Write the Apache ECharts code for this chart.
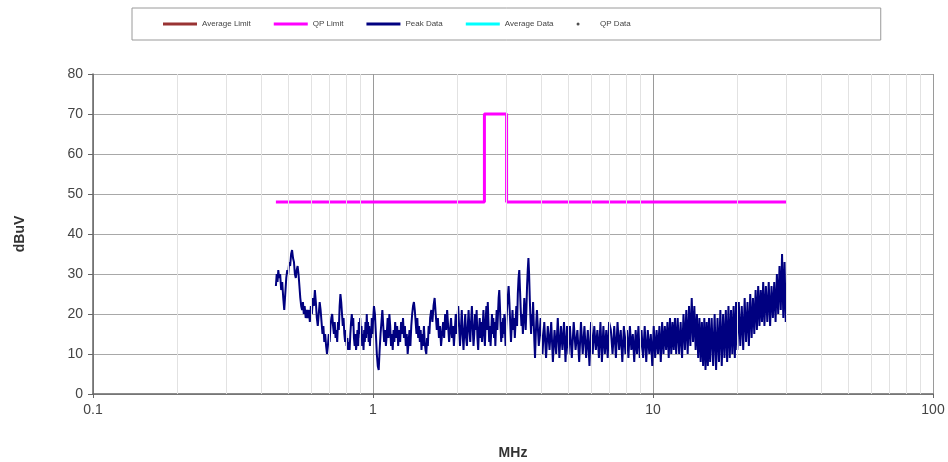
<!DOCTYPE html>
<html>
<head>
<meta charset="utf-8">
<script src="https://cdn.jsdelivr.net/npm/echarts@6/dist/echarts.min.js"></script>
<style>
  html, body { margin: 0; padding: 0; background: #fff; }
  #main { width: 948px; height: 462px; }
</style>
</head>
<body>
<div id="main"></div>
<script>
// legend names
var seriesNames = ['Average Limit', 'QP Limit', 'Peak Data', 'Average Data', 'QP Data'];

// y axis ticks (dBuV)
var yTicks = [0, 10, 20, 30, 40, 50, 60, 70, 80];

// minor frequency grid (MHz)
var minorFreqs = [0.2, 0.3, 0.4, 0.5, 0.6, 0.7, 0.8, 0.9,
                  2, 3, 4, 5, 6, 7, 8, 9,
                  20, 30, 40, 50, 60, 70, 80, 90];

// QP limit line [MHz, dBuV]
var qpLimit = [[0.45, 48], [2.5, 48], [2.5, 70], [3.0, 70], [3.0, 48], [30, 48]];

// peak scan [MHz, dBuV]
var peakData = [
  [0.450,27],[0.453,30],[0.456,28],[0.459,31],[0.462,29],[0.466,30],[0.470,26],[0.474,28],[0.478,24],[0.482,21],
  [0.486,25],[0.490,29],[0.494,31],[0.498,30],[0.502,33],[0.506,32],[0.510,35],[0.514,36],[0.518,34],[0.522,33],
  [0.526,30],[0.530,29],[0.534,31],[0.538,32],[0.542,30],[0.546,27],[0.550,24],[0.554,22],[0.558,21],[0.562,23],
  [0.566,20],[0.570,22],[0.575,19],[0.580,21],[0.585,19],[0.590,21],
  [0.595,18],[0.600,22],[0.605,20],[0.610,24],[0.615,22],[0.620,26],[0.625,23],[0.630,19],[0.635,17],[0.640,20],
  [0.645,23],[0.650,21],[0.655,18],[0.660,15],[0.665,17],[0.670,13],[0.675,15],[0.680,12],[0.685,10],[0.690,12],
  [0.695,15],[0.700,13],[0.705,17],[0.710,19],[0.715,20],[0.720,17],[0.725,15],[0.730,18],[0.735,14],[0.740,16],
  [0.745,13],[0.750,18],[0.755,16],[0.760,22],[0.765,25],[0.770,23],[0.775,20],[0.780,17],[0.785,19],[0.790,15],
  [0.795,13],[0.800,16],[0.805,12],[0.810,14],[0.815,11],[0.820,13],[0.825,11],[0.830,15],[0.835,18],[0.840,20],
  [0.845,17],[0.850,19],[0.855,14],[0.860,12],[0.865,15],[0.870,11],[0.875,13],[0.880,16],[0.885,12],[0.890,18],
  [0.895,15],[0.900,19],[0.905,14],[0.910,17],[0.915,12],[0.920,15],[0.925,11],[0.930,16],[0.935,13],[0.940,18],
  [0.945,14],[0.950,20],[0.955,15],[0.960,18],[0.965,13],[0.970,17],[0.975,12],[0.980,16],[0.985,14],[0.990,19],
  [0.995,15],
  [1.000,18],[1.008,22],[1.016,20],[1.024,15],[1.032,10],[1.040,7],[1.048,6],[1.056,11],[1.064,15],[1.072,18],
  [1.080,21],[1.088,17],[1.096,13],[1.104,16],[1.112,12],[1.120,15],[1.128,19],[1.136,14],[1.144,20],[1.152,17],
  [1.160,12],[1.168,15],[1.176,11],[1.184,16],[1.192,13],[1.200,18],[1.210,14],[1.220,17],[1.230,12],[1.240,16],
  [1.250,13],[1.260,18],[1.270,15],[1.280,19],[1.290,14],[1.300,17],[1.310,12],[1.320,15],[1.330,10],[1.340,13],
  [1.350,16],[1.360,12],[1.370,17],[1.380,20],[1.390,22],[1.400,23],[1.410,21],[1.420,18],[1.430,15],[1.440,19],
  [1.450,14],[1.460,17],[1.470,13],[1.480,16],[1.490,11],[1.500,15],[1.510,12],[1.520,17],[1.530,13],[1.540,11],
  [1.550,10],[1.560,14],[1.570,12],[1.580,17],[1.590,15],[1.600,19],[1.615,21],[1.630,18],[1.645,22],[1.660,24],
  [1.675,20],[1.690,16],[1.705,19],[1.720,14],[1.735,17],[1.750,12],[1.765,15],[1.780,18],[1.795,14],[1.810,20],
  [1.825,16],[1.840,21],[1.855,17],[1.870,13],[1.885,16],[1.900,19],[1.915,14],[1.930,17],[1.945,12],[1.960,16],
  [1.975,20],[1.990,15],
  [2.000,18],[2.015,22],[2.030,17],[2.045,12],[2.060,16],[2.075,21],[2.090,15],[2.105,11],[2.120,16],[2.135,20],
  [2.150,14],[2.165,12],[2.180,17],[2.195,21],[2.210,16],[2.225,13],[2.240,18],[2.255,22],[2.270,17],[2.285,12],
  [2.300,15],[2.315,20],[2.330,16],[2.345,21],[2.360,14],[2.375,11],[2.390,16],[2.405,19],[2.420,14],[2.435,18],
  [2.450,13],[2.465,17],[2.480,21],[2.495,15],[2.510,12],[2.525,18],[2.540,22],[2.555,16],[2.570,23],[2.585,18],
  [2.600,13],[2.615,17],[2.630,12],[2.645,16],[2.660,20],[2.675,15],[2.690,19],[2.705,14],[2.720,18],[2.735,12],
  [2.750,17],[2.765,21],[2.780,16],[2.795,20],[2.810,24],[2.825,26],[2.840,22],[2.855,17],[2.870,13],[2.885,18],
  [2.900,14],[2.915,19],[2.930,15],[2.945,20],[2.960,16],[2.975,12],[2.990,17],[3.010,21],[3.030,24],[3.050,27],
  [3.070,23],[3.090,18],[3.110,13],[3.130,17],[3.150,21],[3.170,16],[3.190,19],[3.210,14],[3.230,18],[3.250,22],
  [3.270,17],[3.290,25],[3.310,29],[3.330,31],[3.350,26],[3.370,21],[3.390,17],[3.410,20],[3.430,15],[3.450,19],
  [3.470,24],[3.490,20],[3.510,16],[3.530,21],[3.550,27],[3.570,31],[3.590,34],[3.610,30],[3.630,24],[3.650,19],
  [3.670,15],[3.690,20],[3.710,17],[3.730,23],[3.750,18],[3.770,13],[3.790,9],[3.810,14],[3.830,18],
  [3.85,21],[3.91,12],[3.97,19],[4.03,10],[4.09,18],[4.15,9],[4.21,17],[4.27,11],[4.33,18],[4.39,8],
  [4.45,16],[4.51,10],[4.57,19],[4.63,9],[4.69,17],[4.75,11],[4.81,18],[4.87,8],[4.93,17],[4.99,10],
  [5.05,17],[5.13,9],[5.21,18],[5.29,11],[5.37,16],[5.45,8],[5.53,18],[5.61,10],[5.69,17],[5.77,9],
  [5.85,16],[5.93,7],[6.01,18],[6.09,10],[6.17,17],[6.25,11],[6.33,16],[6.41,9],[6.49,18],[6.57,8],
  [6.65,17],[6.73,10],[6.81,16],[6.89,9],[6.97,18],
  [7.07,16],[7.17,10],[7.27,17],[7.37,9],[7.47,18],[7.57,11],[7.67,16],[7.77,8],[7.87,17],[7.97,10],
  [8.07,16],[8.17,9],[8.27,17],[8.37,11],[8.47,15],[8.57,8],[8.67,16],[8.77,10],[8.87,17],[8.97,9],
  [9.10,16],[9.22,9],[9.34,17],[9.46,8],[9.58,16],[9.70,10],[9.82,15],[9.94,7],[10.06,17],[10.18,9],
  [10.30,16],[10.42,10],[10.54,17],[10.66,8],[10.78,18],[10.90,10],[11.02,17],[11.14,11],[11.26,18],[11.38,9],
  [11.50,19],[11.62,10],[11.74,18],[11.86,11],[11.98,19],
  [12.10,10],[12.25,19],[12.40,10],[12.55,18],[12.70,9],[12.85,20],[13.00,11],[13.15,21],[13.30,10],[13.45,22],
  [13.60,12],[13.75,24],[13.90,13],[14.05,22],[14.20,11],[14.35,20],[14.50,9],[14.65,19],[14.80,8],[14.95,18],
  [15.10,7],[15.25,19],[15.40,6],[15.55,18],[15.70,7],[15.85,19],
  [16.0,8],[16.2,19],[16.4,7],[16.6,20],[16.8,6],[17.0,19],[17.2,8],[17.4,21],[17.6,7],[17.8,20],
  [18.0,9],[18.2,21],[18.4,8],[18.6,22],[18.8,9],[19.0,21],[19.2,10],[19.4,22],[19.6,9],[19.8,23],
  [20.00,11],[20.25,23],[20.50,12],[20.75,22],[21.00,11],[21.25,24],[21.50,13],[21.75,23],[22.00,12],[22.25,25],
  [22.50,14],[22.75,24],[23.00,15],[23.25,26],[23.50,16],[23.75,27],[24.00,17],[24.25,26],[24.50,18],[24.75,28],
  [25.0,17],[25.3,27],[25.6,18],[25.9,28],[26.2,17],[26.5,27],[26.8,19],[27.1,28],[27.4,18],[27.7,30],
  [28.0,20],[28.3,32],[28.6,21],[28.9,35],[29.2,19],[29.5,33],[29.8,18]
];

var chart = echarts.init(document.getElementById('main'));

var minorLines = minorFreqs.map(function (f) { return { xAxis: f }; });

var option = {
  backgroundColor: '#fff',
  animation: false,
  textStyle: { fontFamily: 'Liberation Sans, Arial, sans-serif' },
  legend: {
    left: 132,
    top: 8,
    orient: 'horizontal',
    backgroundColor: '#fff',
    borderColor: '#9a9a9a',
    borderWidth: 1,
    padding: [12, 250, 12, 31],
    itemGap: 23,
    itemWidth: 34,
    itemHeight: 3,
    textStyle: { fontSize: 8, color: '#444' },
    data: [
      { name: 'Average Limit', icon: 'rect' },
      { name: 'QP Limit', icon: 'rect' },
      { name: 'Peak Data', icon: 'rect' },
      { name: 'Average Data', icon: 'rect' },
      { name: 'QP Data', icon: 'circle' }
    ]
  },
  grid: { left: 93, right: 15, top: 74, bottom: 68, outerBoundsMode: 'none', containLabel: false },
  xAxis: {
    type: 'log',
    logBase: 10,
    min: 0.1,
    max: 100,
    name: 'MHz',
    nameLocation: 'middle',
    nameGap: 52,
    nameTextStyle: { fontSize: 14, fontWeight: 'bold', color: '#333' },
    axisLine: { onZero: false, lineStyle: { color: '#666', width: 1.5 } },
    axisTick: { show: true, length: 4, lineStyle: { color: '#666' } },
    axisLabel: {
      fontSize: 14, color: '#444', margin: 9,
      formatter: function (v) { return String(+v.toPrecision(3)); }
    },
    splitLine: { show: true, lineStyle: { color: '#9a9a9a', width: 1 } }
  },
  yAxis: {
    type: 'value',
    min: yTicks[0],
    max: yTicks[yTicks.length - 1],
    interval: 10,
    name: 'dBuV',
    nameLocation: 'middle',
    nameGap: 66,
    nameTextStyle: { fontSize: 14, fontWeight: 'bold', color: '#333' },
    axisLine: { show: true, lineStyle: { color: '#666', width: 1.5 } },
    axisTick: { show: true, length: 5, lineStyle: { color: '#666' } },
    axisLabel: { fontSize: 14, color: '#444', margin: 10 },
    splitLine: { show: true, lineStyle: { color: '#a8a8a8', width: 1 } }
  },
  series: [
    {
      name: seriesNames[0],
      type: 'line',
      color: '#993333',
      data: [],
      z: 1,
      markLine: {
        silent: true,
        symbol: 'none',
        label: { show: false },
        lineStyle: { color: '#e2e2e2', width: 1, type: 'solid' },
        data: minorLines
      }
    },
    {
      name: seriesNames[1],
      type: 'line',
      color: '#ff00ff',
      symbol: 'none',
      lineStyle: { width: 3 },
      data: qpLimit,
      z: 3
    },
    {
      name: seriesNames[2],
      type: 'line',
      color: '#000080',
      symbol: 'none',
      lineStyle: { width: 2 },
      data: peakData,
      z: 4
    },
    {
      name: seriesNames[3],
      type: 'line',
      color: '#00ffff',
      data: []
    },
    {
      name: seriesNames[4],
      type: 'scatter',
      color: '#222',
      data: []
    }
  ]
};

chart.setOption(option);
</script>
</body>
</html>
